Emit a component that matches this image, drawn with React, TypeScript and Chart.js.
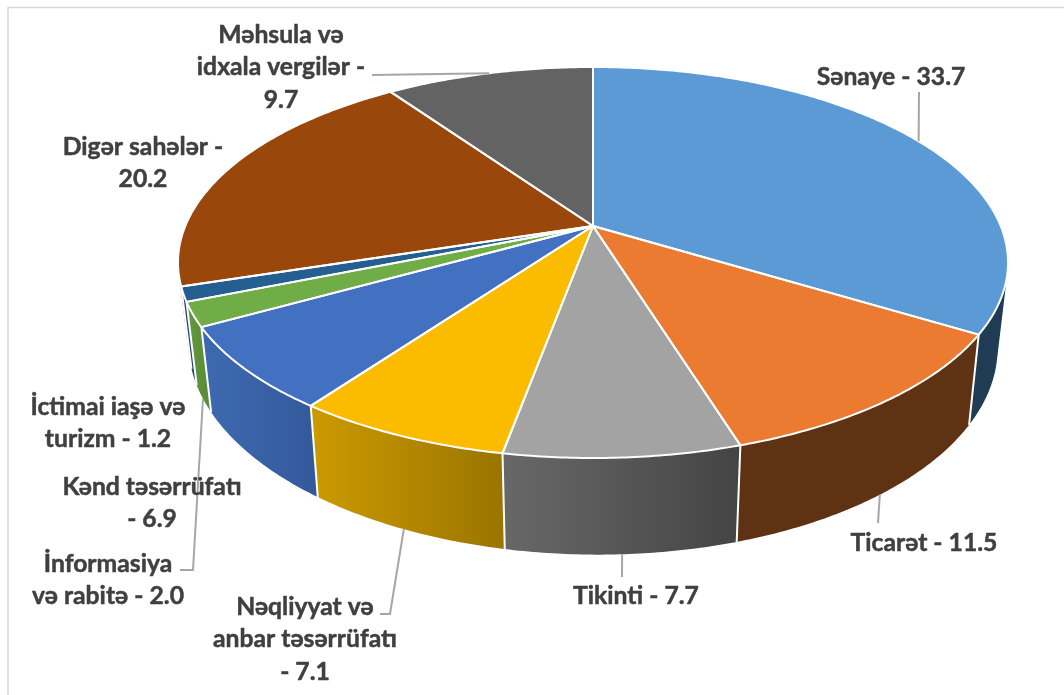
import React, { useEffect, useRef } from "react";
import { Chart, registerables } from "chart.js";

Chart.register(...registerables);

const categories = [
  "Sənaye",
  "Ticarət",
  "Tikinti",
  "Nəqliyyat və anbar təsərrüfatı",
  "Kənd təsərrüfatı",
  "İnformasiya və rabitə",
  "İctimai iaşə və turizm",
  "Digər sahələr",
  "Məhsula və idxala vergilər",
];
const values = [33.7, 11.5, 7.7, 7.1, 6.9, 2.0, 1.2, 20.2, 9.7];
const topColors = ["#5B9AD5", "#EB7B31", "#A3A3A3", "#FBBC00", "#4371C1", "#70AD47", "#255E91", "#9A470C", "#636363"];
const wallLeft = ["#254560", "#5F3214", "#686868", "#CC9A00", "#3E69B2", "#639A3F", "#1F4E79", "#7A380B", "#4A4A4A"];
const wallRight = ["#203B54", "#5F3214", "#444444", "#9A7400", "#33599A", "#578A37", "#1B456B", "#6A300A", "#404040"];

const labelLines = [
  ["Sənaye - 33.7"],
  ["Ticarət - 11.5"],
  ["Tikinti - 7.7"],
  ["Nəqliyyat və", "anbar təsərrüfatı", "- 7.1"],
  ["Kənd təsərrüfatı", "- 6.9"],
  ["İnformasiya", "və rabitə - 2.0"],
  ["İctimai iaşə və", "turizm - 1.2"],
  ["Digər sahələr -", "20.2"],
  ["Məhsula və", "idxala vergilər -", "9.7"],
];

// Label layout: centre x, first-line centre y
const labelPos: [number, number][] = [
  [891, 77], [924, 543], [636, 596], [305, 607], [152, 487], [108, 564], [108, 407], [143, 147], [281, 35],
];
// Leader waypoints after the rim anchor; rim: which rim the anchor sits on
const leaders: { rim: "top" | "bottom"; pts: [number, number][] }[] = [
  { rim: "top", pts: [[919, 92]] },
  { rim: "bottom", pts: [[878, 523]] },
  { rim: "bottom", pts: [[622, 577]] },
  { rim: "bottom", pts: [[390, 614], [380, 614]] },
  { rim: "top", pts: [] },
  { rim: "bottom", pts: [[193, 570], [180, 570]] },
  { rim: "top", pts: [] },
  { rim: "top", pts: [] },
  { rim: "top", pts: [[372, 75]] },
];

// Perspective camera for the disc
const CX = 593, CY = 226, A = 407.7, B = 188.7, K = 0.1867;
const FONT = 'bold 24.7px Lato, "Open Sans", sans-serif';

const topPoint = (a: number): [number, number] => {
  const X = Math.cos(a), Y = Math.sin(a);
  const w = 1 - K * Y;
  return [CX + (A * X) / w, CY + (B * Y) / w];
};
const bottomPoint = (a: number): [number, number] => {
  const [sx, sy] = topPoint(a);
  const d = 88 + (sy - 335) * 0.07 + (sx - CX) * 0.006;
  return [CX + 0.975 * (sx - CX), sy + d];
};

const pie3d = {
  id: "pie3d",
  beforeDatasetsDraw(chart: any) {
    const ctx: CanvasRenderingContext2D = chart.ctx;
    const arcs = chart.getDatasetMeta(0).data as any[];
    ctx.save();

    // frame
    ctx.strokeStyle = "#D9D9D9";
    ctx.lineWidth = 1.5;
    ctx.beginPath();
    ctx.moveTo(8, 695);
    ctx.lineTo(8, 7.5);
    ctx.lineTo(1064, 7.5);
    ctx.stroke();

    const rim = (s: number, e: number, f: (a: number) => [number, number]) => {
      const n = Math.max(4, Math.ceil((e - s) / 0.01));
      const out: [number, number][] = [];
      for (let i = 0; i <= n; i++) out.push(f(s + ((e - s) * i) / n));
      return out;
    };

    // outer walls, from back to front; strips wound the same way fill as one shape
    const order = arcs
      .map((_, i) => i)
      .sort((p, q) => {
        const mid = (i: number) => (arcs[i].startAngle + arcs[i].endAngle) / 2;
        return topPoint(mid(p))[1] - topPoint(mid(q))[1];
      });
    for (const i of order) {
      const { startAngle: s, endAngle: e } = arcs[i];
      const t = rim(s, e, topPoint);
      const b = rim(s, e, bottomPoint);
      const xs = [...t, ...b].map((p) => p[0]);
      const g = ctx.createLinearGradient(Math.min(...xs), 0, Math.max(...xs), 0);
      g.addColorStop(0, wallLeft[i]);
      g.addColorStop(1, wallRight[i]);
      ctx.fillStyle = g;
      ctx.beginPath();
      for (let j = 0; j < t.length - 1; j++) {
        const quad = [t[j], t[j + 1], b[j + 1], b[j]];
        let area = 0;
        quad.forEach((p, k) => {
          const q = quad[(k + 1) % 4];
          area += p[0] * q[1] - q[0] * p[1];
        });
        if (area < 0) quad.reverse();
        quad.forEach((p, k) => (k ? ctx.lineTo(p[0], p[1]) : ctx.moveTo(p[0], p[1])));
        ctx.closePath();
      }
      ctx.fill();
    }
    // white seams between walls on the front half
    ctx.strokeStyle = "#FFFFFF";
    ctx.lineWidth = 2;
    for (const arc of arcs) {
      const a = arc.startAngle;
      if (Math.sin(a) > -0.1) {
        const p = topPoint(a), q = bottomPoint(a);
        ctx.beginPath();
        ctx.moveTo(p[0], p[1]);
        ctx.lineTo(q[0], q[1]);
        ctx.stroke();
      }
    }

    // top face
    arcs.forEach((arc, i) => {
      const t = rim(arc.startAngle, arc.endAngle, topPoint);
      ctx.beginPath();
      ctx.moveTo(CX, CY);
      t.forEach((p) => ctx.lineTo(p[0], p[1]));
      ctx.closePath();
      ctx.fillStyle = topColors[i];
      ctx.fill();
    });
    ctx.strokeStyle = "#FFFFFF";
    ctx.lineWidth = 2;
    ctx.lineJoin = "round";
    arcs.forEach((arc) => {
      const t = rim(arc.startAngle, arc.endAngle, topPoint);
      ctx.beginPath();
      ctx.moveTo(CX, CY);
      t.forEach((p) => ctx.lineTo(p[0], p[1]));
      ctx.closePath();
      ctx.stroke();
    });

    // leader lines
    ctx.strokeStyle = "#A6A6A6";
    ctx.lineWidth = 2;
    arcs.forEach((arc, i) => {
      const l = leaders[i];
      if (!l.pts.length) return;
      const mid = (arc.startAngle + arc.endAngle) / 2;
      const p = l.rim === "top" ? topPoint(mid) : bottomPoint(mid);
      ctx.beginPath();
      ctx.moveTo(p[0], p[1]);
      l.pts.forEach((q) => ctx.lineTo(q[0], q[1]));
      ctx.stroke();
    });

    // labels
    ctx.font = FONT;
    ctx.fillStyle = "#404040";
    ctx.strokeStyle = "#404040";
    ctx.lineWidth = 0.5;
    ctx.textAlign = "center";
    ctx.textBaseline = "middle";
    labelLines.forEach((lines, i) => {
      lines.forEach((line, j) => {
        const y = labelPos[i][1] + j * 32.5;
        ctx.fillText(line, labelPos[i][0], y);
        ctx.strokeText(line, labelPos[i][0], y);
      });
    });
    ctx.restore();
    return false;
  },
};

export default function App() {
  const ref = useRef<HTMLCanvasElement>(null);
  useEffect(() => {
    document.body.style.margin = "0";
    document.body.style.background = "#FFFFFF";
    const chart = new Chart(ref.current!, {
      type: "pie",
      data: {
        labels: categories,
        datasets: [{ data: values, backgroundColor: topColors }],
      },
      options: {
        responsive: false,
        animation: false,
        plugins: { legend: { display: false }, tooltip: { enabled: false } },
      },
      plugins: [pie3d],
    } as any);
    return () => chart.destroy();
  }, []);
  return <canvas ref={ref} width={1064} height={695} style={{ display: "block" }} />;
}
